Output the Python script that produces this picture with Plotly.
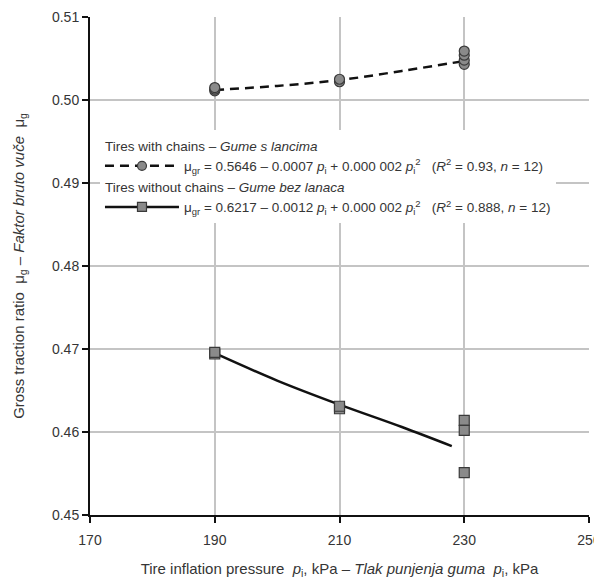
import plotly.graph_objects as go

# --- data ---
chains_p = [190, 190, 190, 210, 210, 230, 230, 230, 230]
chains_mu = [0.5011, 0.5013, 0.5015, 0.5022, 0.5025, 0.5043, 0.5048, 0.5054, 0.5059]
chains_fit_p = [190, 200, 210, 220, 230]
chains_fit_mu = [0.5012, 0.5017, 0.5024, 0.5035, 0.5047]

nochains_p = [190, 190, 210, 210, 230, 230, 230]
nochains_mu = [0.4694, 0.4696, 0.4628, 0.4631, 0.4614, 0.4602, 0.4551]
nochains_fit_p = [190, 200, 210, 220, 228]
nochains_fit_mu = [0.4695, 0.4662, 0.4633, 0.4606, 0.4583]

x_ticks = [170, 190, 210, 230, 250]
y_ticks = [0.45, 0.46, 0.47, 0.48, 0.49, 0.50, 0.51]

grp1_title = "Tires with chains – <i>Gume s lancima</i>"
grp1_eq = ("μ<sub>gr</sub> = 0.5646 – 0.0007 <i>p</i><sub>i</sub> + 0.000 002 <i>p</i><sub>i</sub><sup>2</sup>"
           "   (<i>R</i><sup>2</sup> = 0.93, <i>n</i> = 12)")
grp2_title = "Tires without chains – <i>Gume bez lanaca</i>"
grp2_eq = ("μ<sub>gr</sub> = 0.6217 – 0.0012 <i>p</i><sub>i</sub> + 0.000 002 <i>p</i><sub>i</sub><sup>2</sup>"
           "   (<i>R</i><sup>2</sup> = 0.888, <i>n</i> = 12)")

FONT = "Liberation Sans, Arial, sans-serif"
TXT = "#353535"
marker_fill = "#8a8a8a"
marker_line = "#3a3a3a"

fig = go.Figure()

# fitted curves
fig.add_trace(go.Scatter(x=chains_fit_p, y=chains_fit_mu, mode="lines", line_shape="spline",
                         line=dict(color="#111111", width=2.5, dash="9px,6px"),
                         showlegend=False, hoverinfo="skip"))
fig.add_trace(go.Scatter(x=nochains_fit_p, y=nochains_fit_mu, mode="lines", line_shape="spline",
                         line=dict(color="#111111", width=2.5),
                         showlegend=False, hoverinfo="skip"))
# measured points
fig.add_trace(go.Scatter(x=chains_p, y=chains_mu, mode="markers",
                         marker=dict(symbol="circle", size=10, color=marker_fill,
                                     line=dict(color=marker_line, width=1.2)),
                         showlegend=False))
fig.add_trace(go.Scatter(x=nochains_p, y=nochains_mu, mode="markers",
                         marker=dict(symbol="square", size=10, color=marker_fill,
                                     line=dict(color=marker_line, width=1.2)),
                         showlegend=False))

# legend entries
fig.add_trace(go.Scatter(x=[None], y=[None], mode="lines+markers", name=grp1_eq,
                         legendgroup="g1", legendgrouptitle=dict(text=grp1_title),
                         line=dict(color="#111111", width=2.5, dash="9px,6px"),
                         marker=dict(symbol="circle", size=9, color=marker_fill,
                                     line=dict(color=marker_line, width=1.2))))
fig.add_trace(go.Scatter(x=[None], y=[None], mode="lines+markers", name=grp2_eq,
                         legendgroup="g2", legendgrouptitle=dict(text=grp2_title),
                         line=dict(color="#111111", width=2.5),
                         marker=dict(symbol="square", size=9, color=marker_fill,
                                     line=dict(color=marker_line, width=1.2))))

axis_common = dict(showline=True, linecolor="#111111", linewidth=2, automargin=False,
                   ticks="outside", ticklen=6, tickwidth=1.5, tickcolor="#111111",
                   showgrid=True, gridcolor="#c4c4c4", gridwidth=1.5,
                   zeroline=False, tickfont=dict(family=FONT, size=14, color=TXT))

fig.update_xaxes(range=[170, 250], tickvals=x_ticks, ticklabelstandoff=5, **axis_common,
                 title=dict(text="Tire inflation pressure  <i>p</i><sub>i</sub>, kPa – "
                                 "<i>Tlak punjenja guma  p</i><sub>i</sub>, kPa",
                            font=dict(family=FONT, size=15, color=TXT), standoff=17))
fig.update_yaxes(range=[0.45, 0.51], tickvals=y_ticks, tickformat=".2f", **axis_common,
                 title=dict(text="Gross traction ratio  μ<sub>g</sub> – "
                                 "<i>Faktor bruto vuče</i>  μ<sub>g</sub>",
                            font=dict(family=FONT, size=15, color=TXT), standoff=24))

fig.update_layout(
    width=594, height=574,
    margin=dict(l=82, r=13, t=9, b=67),
    paper_bgcolor="white", plot_bgcolor="white",
    font=dict(family=FONT, size=14, color=TXT),
    legend=dict(x=0.02, y=0.773, xanchor="left", yanchor="top",
                bgcolor="white", borderwidth=0, tracegroupgap=0, itemwidth=74,
                font=dict(family=FONT, size=13.5, color=TXT),
                grouptitlefont=dict(family=FONT, size=13.5, color=TXT)),
)

fig.write_html("out.html")
